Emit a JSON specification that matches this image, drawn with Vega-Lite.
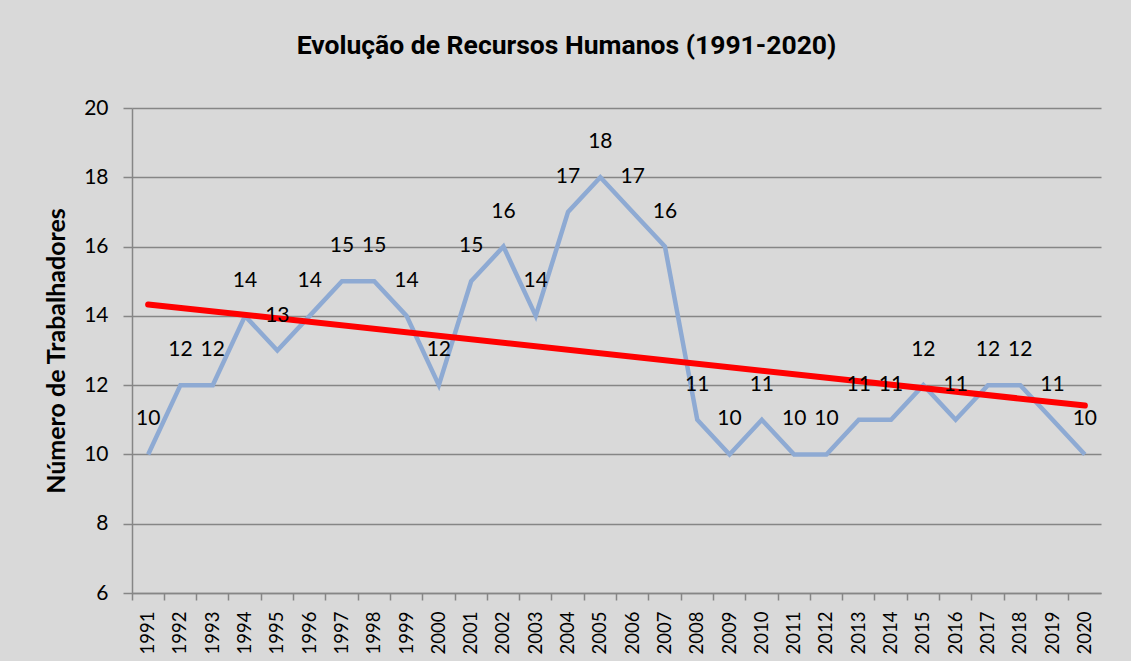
{
  "$schema": "https://vega.github.io/schema/vega-lite/v6.json",
  "width": 969,
  "height": 485,
  "autosize": {"type": "none"},
  "padding": {"left": 132, "top": 108, "right": 30, "bottom": 68},
  "background": "#d9d9d9",
  "title": {
    "text": "Evolução de Recursos Humanos (1991-2020)",
    "font": "Roboto",
    "fontSize": 26.5,
    "fontWeight": "bold",
    "color": "#000000",
    "anchor": "middle",
    "dx": -50,
    "offset": 38
  },
  "datasets": {
    "rh": [
      {"ano": "1991", "valor": 10}, {"ano": "1992", "valor": 12}, {"ano": "1993", "valor": 12},
      {"ano": "1994", "valor": 14}, {"ano": "1995", "valor": 13}, {"ano": "1996", "valor": 14},
      {"ano": "1997", "valor": 15}, {"ano": "1998", "valor": 15}, {"ano": "1999", "valor": 14},
      {"ano": "2000", "valor": 12}, {"ano": "2001", "valor": 15}, {"ano": "2002", "valor": 16},
      {"ano": "2003", "valor": 14}, {"ano": "2004", "valor": 17}, {"ano": "2005", "valor": 18},
      {"ano": "2006", "valor": 17}, {"ano": "2007", "valor": 16}, {"ano": "2008", "valor": 11},
      {"ano": "2009", "valor": 10}, {"ano": "2010", "valor": 11}, {"ano": "2011", "valor": 10},
      {"ano": "2012", "valor": 10}, {"ano": "2013", "valor": 11}, {"ano": "2014", "valor": 11},
      {"ano": "2015", "valor": 12}, {"ano": "2016", "valor": 11}, {"ano": "2017", "valor": 12},
      {"ano": "2018", "valor": 12}, {"ano": "2019", "valor": 11}, {"ano": "2020", "valor": 10}
    ],
    "tendencia": [
      {"ano": "1991", "valor": 14.33},
      {"ano": "2020", "valor": 11.41}
    ]
  },
  "encoding": {
    "x": {
      "field": "ano",
      "type": "ordinal",
      "scale": {"type": "band", "paddingInner": 0, "paddingOuter": 0},
      "axis": {
        "title": null,
        "labelAngle": -90,
        "labelAlign": "right",
        "labelBaseline": "middle",
        "labelFont": "Lato",
        "labelFontSize": 18.5,
        "labelColor": "#000000",
        "labelPadding": 11,
        "bandPosition": 0,
        "tickSize": 7,
        "tickColor": "#868686",
        "tickWidth": 1.5,
        "domainColor": "#868686",
        "domainWidth": 1.5,
        "grid": false
      }
    },
    "y": {
      "field": "valor",
      "type": "quantitative",
      "scale": {"domain": [6, 20], "nice": false, "zero": false},
      "axis": {
        "values": [6, 8, 10, 12, 14, 16, 18, 20],
        "title": "Número de Trabalhadores",
        "titleFont": "Lato",
        "titleFontSize": 25,
        "titleFontWeight": "bold",
        "titleColor": "#000000",
        "titlePadding": 14,
        "labelFont": "Lato",
        "labelFontSize": 21,
        "labelColor": "#000000",
        "labelPadding": 15,
        "tickSize": 9,
        "tickColor": "#868686",
        "tickWidth": 1.5,
        "domainColor": "#868686",
        "domainWidth": 1.5,
        "grid": true,
        "gridColor": "#868686",
        "gridWidth": 1.5
      }
    }
  },
  "layer": [
    {
      "data": {"name": "rh"},
      "mark": {"type": "line", "color": "#8eaad3", "strokeWidth": 4.5, "strokeJoin": "miter"}
    },
    {
      "data": {"name": "tendencia"},
      "mark": {"type": "line", "color": "#ff0000", "strokeWidth": 6, "strokeCap": "round"}
    },
    {
      "data": {"name": "rh"},
      "mark": {"type": "text", "font": "Lato", "fontSize": 21, "color": "#000000", "dy": -35, "baseline": "middle"},
      "encoding": {"text": {"field": "valor", "type": "quantitative"}}
    }
  ],
  "config": {
    "view": {"stroke": null, "fill": "#d9d9d9"}
  }
}
